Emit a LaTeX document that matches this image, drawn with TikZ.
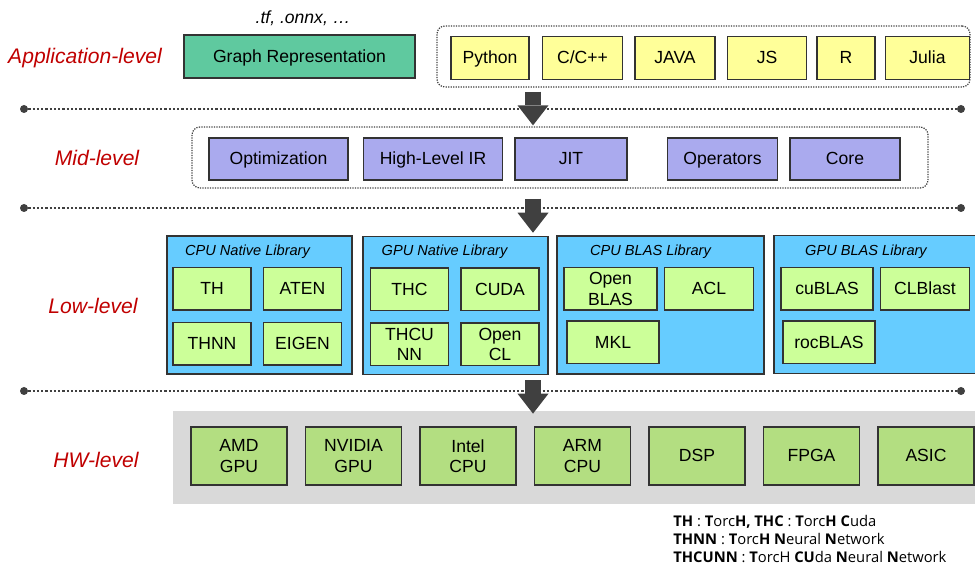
\documentclass[tikz,border=0pt]{standalone}
\usepackage{fontspec}
\setmainfont{Liberation Sans}
\newfontfamily\notefont{Open Sans}
\usetikzlibrary{positioning,arrows.meta}
\definecolor{graphGreen}{HTML}{5FC99F}
\definecolor{langYellow}{HTML}{FFFF99}
\definecolor{midPurple}{HTML}{AAAAEE}
\definecolor{libBlue}{HTML}{66CCFF}
\definecolor{libGreen}{HTML}{CCFF99}
\definecolor{hwGreen}{HTML}{B3DE81}
\definecolor{bandGray}{HTML}{D9D9D9}
\definecolor{levelRed}{HTML}{C00000}
\definecolor{sepGray}{HTML}{404040}

\begin{document}
\begin{tikzpicture}[
    x=0.2mm, y=-0.2mm,
    every node/.style={font=\fontsize{10}{11.5}\selectfont},
    box/.style={draw=black!80, line width=0.3mm, align=center, inner sep=0pt},
    oneline/.style={text height=7.6pt, text depth=1.2pt},
    langbox/.style={box, oneline, fill=langYellow, minimum height=8.6mm},
    midbox/.style={box, oneline, fill=midPurple, minimum height=8.4mm},
    libgroup/.style={box, fill=libBlue, minimum height=27.6mm},
    libbox/.style={box, fill=libGreen, minimum width=15.6mm, minimum height=8.5mm},
    hwbox/.style={box, fill=hwGreen, minimum width=19.2mm, minimum height=11.6mm},
    group/.style={draw=black!75, line width=0.25mm, dash pattern=on 0.25mm off 0.25mm, rounded corners=1.6mm, inner sep=0pt},
    levellabel/.style={font=\fontsize{12}{14}\selectfont\itshape, text=levelRed},
    libtitle/.style={font=\fontsize{8.3}{10}\selectfont\itshape},
    note/.style={align=left, inner sep=0pt, font=\notefont\fontsize{8.4}{10.2}\selectfont},
    sepdot/.style={circle, fill=sepGray, inner sep=0pt, minimum size=1.6mm},
    sepline/.style={draw=sepGray, line width=0.55mm, dash pattern=on 0.45mm off 0.4mm},
    flow/.style={draw=sepGray, line width=3.2mm, -{Triangle[length=4mm, width=6.2mm, line width=0pt]}}
]
\useasboundingbox (0,0) rectangle (975,567);

\node[levellabel] (appLbl) at (85,58) {Application-level};
\node[levellabel] (midLbl) at (97,158) {Mid-level};
\node[levellabel] (lowLbl) at (93,306) {Low-level};
\node[levellabel] (hwLbl) at (96,460) {HW-level};

\node[font=\fontsize{10}{11.5}\selectfont\itshape] (fmtNote) at (303,18) {.tf, .onnx, \dots};
\node[box, oneline, fill=graphGreen, minimum width=46.2mm, minimum height=8.6mm] (graphRep) at (299.5,56.5) {Graph Representation};

\node[group, minimum width=106.6mm, minimum height=12.2mm] (appGroup) at (703.5,56.5) {};
\node[langbox, minimum width=15.6mm] (python) at (490,58) {Python};
\node[langbox, minimum width=16mm, right=2.4mm of python] (cpp) {C/C++};
\node[langbox, minimum width=16mm, right=2.2mm of cpp] (java) {JAVA};
\node[langbox, minimum width=15.8mm, right=2.2mm of java] (js) {JS};
\node[langbox, minimum width=11.6mm, right=1.8mm of js] (rLang) {R};
\node[langbox, minimum width=16.8mm, right=1.8mm of rLang] (julia) {Julia};

\node[group, minimum width=147.2mm, minimum height=12.2mm] (midGroup) at (560,157.5) {};
\node[midbox, minimum width=27.8mm] (optim) at (278.5,159) {Optimization};
\node[midbox, minimum width=27.8mm, right=2.8mm of optim] (hlir) {High-Level IR};
\node[midbox, minimum width=22.4mm, right=2.2mm of hlir] (jit) {JIT};
\node[midbox, minimum width=22mm, right=7.8mm of jit] (ops) {Operators};
\node[midbox, minimum width=22mm, right=2.2mm of ops] (core) {Core};

\node[libgroup, minimum width=37mm] (cpuNat) at (259.5,305) {};
\node[libgroup, minimum width=37mm] (gpuNat) at (455.5,305.5) {};
\node[libgroup, minimum width=41.4mm] (cpuBlas) at (660.5,305) {};
\node[libgroup, minimum width=42.2mm] (gpuBlas) at (879.5,304.5) {};
\node[libtitle] (cpuNatT) at (247.5,252) {CPU Native Library};
\node[libtitle] (gpuNatT) at (444.5,252) {GPU Native Library};
\node[libtitle] (cpuBlasT) at (650.5,252) {CPU BLAS Library};
\node[libtitle] (gpuBlasT) at (866,252) {GPU BLAS Library};

\node[libbox, oneline] (th) at (212,289) {TH};
\node[libbox, oneline, right=2.2mm of th] (aten) {ATEN};
\node[libbox, oneline, below=2.2mm of th] (thnn) {THNN};
\node[libbox, oneline, right=2.2mm of thnn] (eigen) {EIGEN};
\node[libbox, oneline] (thc) at (409.5,289.5) {THC};
\node[libbox, oneline, right=2.2mm of thc] (cuda) {CUDA};
\node[libbox, below=2.2mm of thc] (thcunn) {THCU\\NN};
\node[libbox, right=2.2mm of thcunn] (opencl) {Open\\CL};
\node[libbox, minimum width=18.6mm] (openblas) at (610.5,289) {Open\\BLAS};
\node[libbox, oneline, minimum width=17.8mm, right=1.2mm of openblas] (acl) {ACL};
\node[libbox, oneline, minimum width=18.4mm] (mkl) at (613,342.5) {MKL};
\node[libbox, oneline, minimum width=18.4mm] (cublas) at (827,289) {cuBLAS};
\node[libbox, oneline, minimum width=17.8mm, right=1.2mm of cublas] (clblast) {CLBlast};
\node[libbox, oneline, minimum width=18.4mm] (rocblas) at (829,342.5) {rocBLAS};

\node[fill=bandGray, inner sep=0pt, minimum width=161.4mm, minimum height=18.6mm] (hwBand) at (576.5,457.5) {};
\node[hwbox] (amd) at (239,456) {AMD\\GPU};
\node[hwbox, right=3.4mm of amd] (nvidia) {NVIDIA\\GPU};
\node[hwbox, right=3.4mm of nvidia] (intel) {Intel\\CPU};
\node[hwbox, right=3.4mm of intel] (arm) {ARM\\CPU};
\node[hwbox, oneline, right=3.4mm of arm] (dsp) {DSP};
\node[hwbox, oneline, right=3.4mm of dsp] (fpga) {FPGA};
\node[hwbox, oneline, right=3.4mm of fpga] (asic) {ASIC};

\node[sepdot] (sepAl) at (24,109) {};
\node[sepdot] (sepAr) at (961,109) {};
\node[sepdot] (sepBl) at (24,208) {};
\node[sepdot] (sepBr) at (961,208) {};
\node[sepdot] (sepCl) at (24,391) {};
\node[sepdot] (sepCr) at (961,391) {};
\draw[sepline] (sepAl) -- (sepAr);
\draw[sepline] (sepBl) -- (sepBr);
\draw[sepline] (sepCl) -- (sepCr);

\coordinate (axis) at (533,0);
\draw[flow, shorten <=0.8mm, shorten >=0.2mm] (appGroup.south -| axis) -- (midGroup.north -| axis);
\draw[flow, shorten <=2mm, shorten >=0.6mm] (midGroup.south -| axis) -- (gpuNat.north -| axis);
\draw[flow, shorten <=1mm, shorten >=-0.6mm] (gpuNat.south -| axis) -- (hwBand.north -| axis);

\node[note, anchor=north west] (legend) at (673,515) {\textbf{TH} : \textbf{T}orc\textbf{H, THC} : \textbf{T}orc\textbf{H C}uda\\
\textbf{THNN} : \textbf{T}orc\textbf{H N}eural \textbf{N}etwork\\
\textbf{THCUNN} : \textbf{T}orcH \textbf{CU}da \textbf{N}eural \textbf{N}etwork};
\end{tikzpicture}
\end{document}
